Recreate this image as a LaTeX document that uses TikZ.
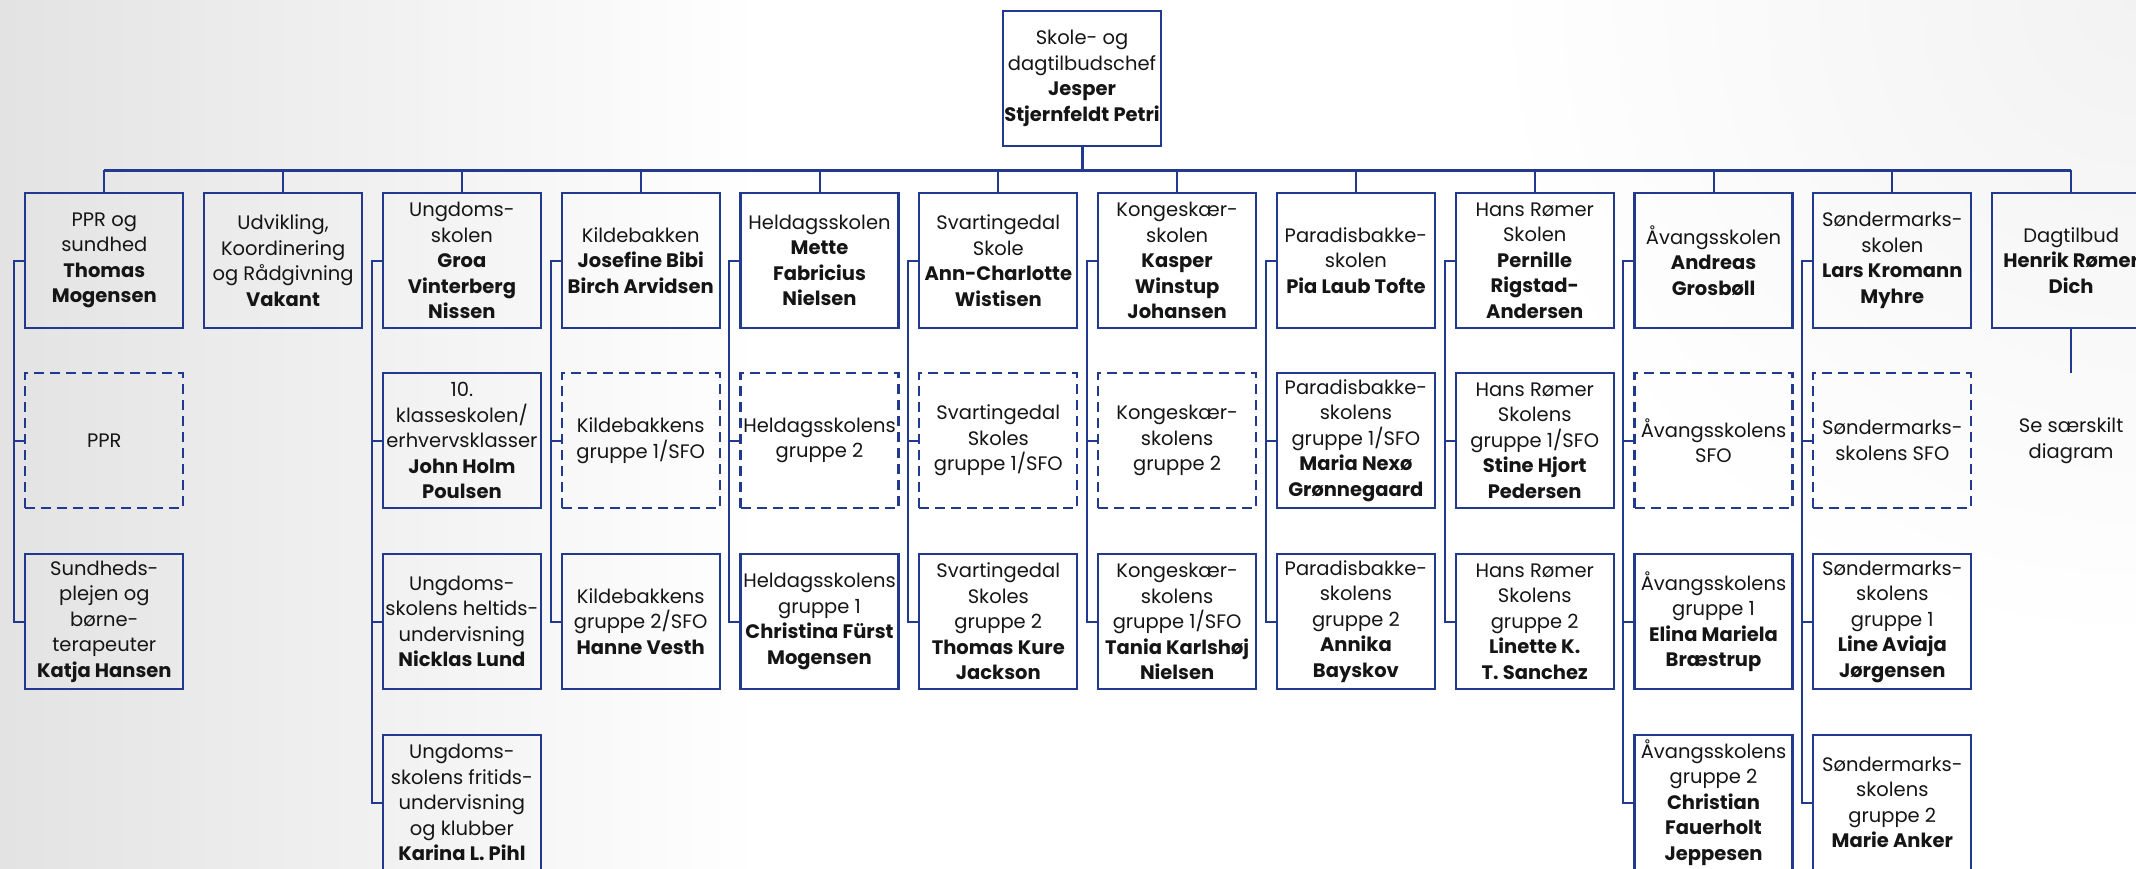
\documentclass[tikz,border=0pt]{standalone}
\usepackage{fontspec}
\setmainfont{Poppins}
\definecolor{lineblue}{HTML}{213A8F}
\definecolor{txt}{HTML}{151515}
\newcommand\bnm[1]{\textbf{#1}}
\tikzset{
  box/.style={draw=lineblue, line width=2.2pt, minimum width=158pt, minimum height=135pt,
    inner sep=0pt, align=center, text=txt, font=\fontsize{19.5}{25.5}\selectfont},
  dbox/.style={box, dash pattern=on 10pt off 6pt},
  plaintext/.style={minimum width=158pt, minimum height=135pt, inner sep=0pt, align=center,
    text=txt, font=\fontsize{19.5}{25.5}\selectfont},
  conn/.style={draw=lineblue, line width=2pt},
  busline/.style={draw=lineblue, line width=3pt},
}
\begin{document}
\begin{tikzpicture}[x=1pt,y=-1pt]
\clip (0,0) rectangle (2136,868);
\fill[white] (0,0) rectangle (2136,868);
\shade[left color=black!11, right color=white] (0,0) rectangle (760,868);
\shade[inner color=black!5, outer color=white] (2136,0) circle (650);

% top
\node[box] (t) at (1082,78.5) {Skole- og\\dagtilbudschef\\\bnm{Jesper}\\\bnm{Stjernfeldt Petri}};

% row 1
\node[box] (b0)  at (104.3,260.5)  {PPR og\\sundhed\\\bnm{Thomas}\\\bnm{Mogensen}};
\node[box] (b1)  at (283.1,260.5)  {Udvikling,\\Koordinering\\og Rådgivning\\\bnm{Vakant}};
\node[box] (b2)  at (461.9,260.5)  {Ungdoms-\\skolen\\\bnm{Groa}\\\bnm{Vinterberg}\\\bnm{Nissen}};
\node[box] (b3)  at (640.7,260.5)  {Kildebakken\\\bnm{Josefine Bibi}\\\bnm{Birch Arvidsen}};
\node[box] (b4)  at (819.5,260.5)  {Heldagsskolen\\\bnm{Mette}\\\bnm{Fabricius}\\\bnm{Nielsen}};
\node[box] (b5)  at (998.3,260.5)  {Svartingedal\\Skole\\\bnm{Ann-Charlotte}\\\bnm{Wistisen}};
\node[box] (b6)  at (1177.1,260.5) {Kongeskær-\\skolen\\\bnm{Kasper}\\\bnm{Winstup}\\\bnm{Johansen}};
\node[box] (b7)  at (1355.9,260.5) {Paradisbakke-\\skolen\\\bnm{Pia Laub Tofte}};
\node[box] (b8)  at (1534.7,260.5) {Hans Rømer\\Skolen\\\bnm{Pernille}\\\bnm{Rigstad-}\\\bnm{Andersen}};
\node[box] (b9)  at (1713.5,260.5) {Åvangsskolen\\\bnm{Andreas}\\\bnm{Grosbøll}};
\node[box] (b10) at (1892.3,260.5) {Søndermarks-\\skolen\\\bnm{Lars Kromann}\\\bnm{Myhre}};
\node[box] (b11) at (2071.1,260.5) {Dagtilbud\\\bnm{Henrik Rømer}\\\bnm{Dich}};

% row 2
\node[dbox] (c0)  at (104.3,440.5)  {PPR};
\node[box]  (c2)  at (461.9,440.5)  {10.\\klasseskolen/\\erhvervsklasser\\\bnm{John Holm}\\\bnm{Poulsen}};
\node[dbox] (c3)  at (640.7,440.5)  {Kildebakkens\\gruppe 1/SFO};
\node[dbox] (c4)  at (819.5,440.5)  {Heldagsskolens\\gruppe 2};
\node[dbox] (c5)  at (998.3,440.5)  {Svartingedal\\Skoles\\gruppe 1/SFO};
\node[dbox] (c6)  at (1177.1,440.5) {Kongeskær-\\skolens\\gruppe 2};
\node[box]  (c7)  at (1355.9,440.5) {Paradisbakke-\\skolens\\gruppe 1/SFO\\\bnm{Maria Nexø}\\\bnm{Grønnegaard}};
\node[box]  (c8)  at (1534.7,440.5) {Hans Rømer\\Skolens\\gruppe 1/SFO\\\bnm{Stine Hjort}\\\bnm{Pedersen}};
\node[dbox] (c9)  at (1713.5,440.5) {Åvangsskolens\\SFO};
\node[dbox] (c10) at (1892.3,440.5) {Søndermarks-\\skolens SFO};
\node[plaintext] (c11) at (2071.1,440.5) {Se særskilt\\diagram};

% row 3
\node[box] (d0)  at (104.3,621.5)  {Sundheds-\\plejen og\\børne-\\terapeuter\\\bnm{Katja Hansen}};
\node[box] (d2)  at (461.9,621.5)  {Ungdoms-\\skolens heltids-\\undervisning\\\bnm{Nicklas Lund}};
\node[box] (d3)  at (640.7,621.5)  {Kildebakkens\\gruppe 2/SFO\\\bnm{Hanne Vesth}};
\node[box] (d4)  at (819.5,621.5)  {Heldagsskolens\\gruppe 1\\\bnm{Christina Fürst}\\\bnm{Mogensen}};
\node[box] (d5)  at (998.3,621.5)  {Svartingedal\\Skoles\\gruppe 2\\\bnm{Thomas Kure}\\\bnm{Jackson}};
\node[box] (d6)  at (1177.1,621.5) {Kongeskær-\\skolens\\gruppe 1/SFO\\\bnm{Tania Karlshøj}\\\bnm{Nielsen}};
\node[box] (d7)  at (1355.9,621.5) {Paradisbakke-\\skolens\\gruppe 2\\\bnm{Annika}\\\bnm{Bayskov}};
\node[box] (d8)  at (1534.7,621.5) {Hans Rømer\\Skolens\\gruppe 2\\\bnm{Linette K.}\\\bnm{T. Sanchez}};
\node[box] (d9)  at (1713.5,621.5) {Åvangsskolens\\gruppe 1\\\bnm{Elina Mariela}\\\bnm{Bræstrup}};
\node[box] (d10) at (1892.3,621.5) {Søndermarks-\\skolens\\gruppe 1\\\bnm{Line Aviaja}\\\bnm{Jørgensen}};

% row 4
\node[box] (e2)  at (461.9,802.5)  {Ungdoms-\\skolens fritids-\\undervisning\\og klubber\\\bnm{Karina L. Pihl}};
\node[box] (e9)  at (1713.5,802.5) {Åvangsskolens\\gruppe 2\\\bnm{Christian}\\\bnm{Fauerholt}\\\bnm{Jeppesen}};
\node[box] (e10) at (1892.3,802.5) {Søndermarks-\\skolens\\gruppe 2\\\bnm{Marie Anker}};

% bus
\coordinate (busL) at (104.3,170);
\coordinate (busR) at (2071.1,170);
\draw[busline] (busL) -- (busR);
\draw[busline] (t.south) -- (t.south |- busL);
\foreach \n in {b0,b1,b2,b3,b4,b5,b6,b7,b8,b9,b10,b11}
  \draw[conn] (\n.north) -- (\n.north |- busL);
\draw[conn] (b11.south) -- (c11.north);

% hanging connectors
\foreach \p/\l in {b0/d0,b2/e2,b3/d3,b4/d4,b5/d5,b6/d6,b7/d7,b8/d8,b9/e9,b10/e10}
  \draw[conn] (\p.west) -- ++(-10,0) |- (\l.west);
\foreach \c in {c0,c2,c3,c4,c5,c6,c7,c8,c9,c10,d2,d9,d10}
  \draw[conn] (\c.west) -- ++(-10,0);
\end{tikzpicture}
\end{document}
